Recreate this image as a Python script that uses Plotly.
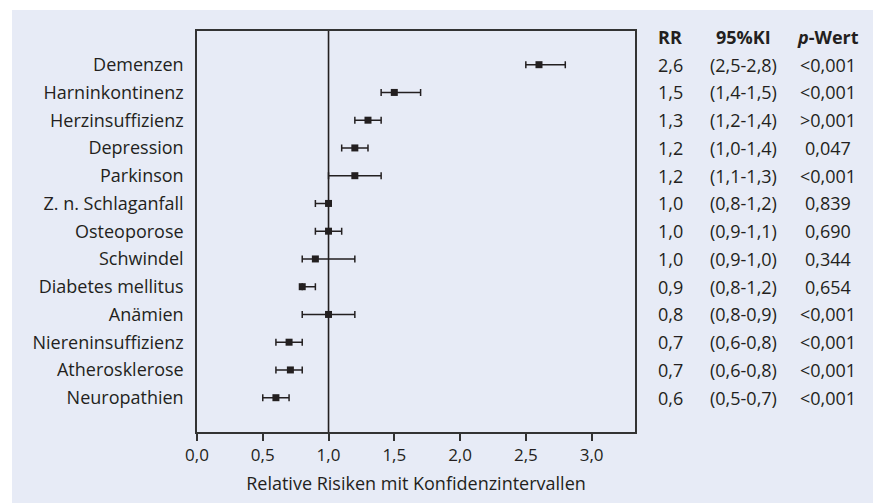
import plotly.graph_objects as go

categories = ["Demenzen", "Harninkontinenz", "Herzinsuffizienz", "Depression", "Parkinson",
              "Z. n. Schlaganfall", "Osteoporose", "Schwindel", "Diabetes mellitus", "Anämien",
              "Niereninsuffizienz", "Atherosklerose", "Neuropathien"]
rr_point = [2.6, 1.5, 1.3, 1.2, 1.2, 1.0, 1.0, 0.9, 0.8, 1.0, 0.7, 0.71, 0.6]
ci_low = [2.5, 1.4, 1.2, 1.1, 1.0, 0.9, 0.9, 0.8, 0.8, 0.8, 0.6, 0.6, 0.5]
ci_high = [2.8, 1.7, 1.4, 1.3, 1.4, 1.0, 1.1, 1.2, 0.9, 1.2, 0.8, 0.8, 0.7]

rr_text = ["2,6", "1,5", "1,3", "1,2", "1,2", "1,0", "1,0", "1,0", "0,9", "0,8", "0,7", "0,7", "0,6"]
ki_text = ["(2,5-2,8)", "(1,4-1,5)", "(1,2-1,4)", "(1,0-1,4)", "(1,1-1,3)", "(0,8-1,2)", "(0,9-1,1)",
           "(0,9-1,0)", "(0,8-1,2)", "(0,8-0,9)", "(0,6-0,8)", "(0,6-0,8)", "(0,5-0,7)"]
p_text = ["<0,001", "<0,001", ">0,001", "0,047", "<0,001", "0,839", "0,690", "0,344", "0,654",
          "<0,001", "<0,001", "<0,001", "<0,001"]
headers = ["<b>RR</b>", "<b>95%KI</b>", "<b><i>p</i>-Wert</b>"]
x_ticks = [0, 0.5, 1.0, 1.5, 2.0, 2.5, 3.0]

n = len(categories)
ypos = [n - 1 - i for i in range(n)]

DARK = "#231f20"
BG = "#e7ebf6"
FONT = "Open Sans"
FS = 18

fig = go.Figure()
fig.add_trace(go.Scatter(
    x=rr_point, y=ypos, mode="markers",
    marker=dict(symbol="square", size=7, color=DARK),
    error_x=dict(type="data", symmetric=False,
                 array=[h - p for h, p in zip(ci_high, rr_point)],
                 arrayminus=[p - l for p, l in zip(rr_point, ci_low)],
                 color=DARK, thickness=1.5, width=3.5),
    showlegend=False, hoverinfo="skip",
))

shapes = [
    dict(type="rect", xref="paper", yref="paper", x0=-0.4224, x1=1.6, y0=-0.2, y1=1.0524,
         fillcolor=BG, line=dict(width=0), layer="below"),
    dict(type="line", xref="x", yref="paper", x0=1.0, x1=1.0, y0=0, y1=1,
         line=dict(color=DARK, width=1.6), layer="below"),
]

annotations = []
col_x = [670, 743, 828]
col_paper = [(c - 197) / 438 for c in col_x]
for cx, h in zip(col_paper, headers):
    annotations.append(dict(x=cx, y=n, xref="paper", yref="y", text=h, showarrow=False,
                            xanchor="center", yanchor="middle",
                            font=dict(family=FONT, size=FS, color=DARK)))
for i in range(n):
    for cx, arr in zip(col_paper, [rr_text, ki_text, p_text]):
        annotations.append(dict(x=cx, y=ypos[i], xref="paper", yref="y", text=arr[i],
                                showarrow=False, xanchor="center", yanchor="middle",
                                font=dict(family=FONT, size=FS, color=DARK)))

fig.update_layout(
    width=873, height=503,
    margin=dict(l=197, r=238, t=31, b=71),
    paper_bgcolor="white", plot_bgcolor="rgba(0,0,0,0)",
    separators=",.",
    font=dict(family=FONT, size=FS, color=DARK),
    shapes=shapes, annotations=annotations,
    xaxis=dict(range=[0, 3.33], tickvals=x_ticks, tickformat=".1f",
               showgrid=False, zeroline=False, showline=True, mirror=True,
               linecolor="#333333", linewidth=1.5, ticks="outside", ticklen=7,
               tickwidth=1.5, tickcolor="#333333",
               title=dict(text="Relative Risiken mit Konfidenzintervallen", standoff=12,
                          font=dict(family=FONT, size=FS, color=DARK)),
               tickfont=dict(family=FONT, size=17, color=DARK)),
    yaxis=dict(range=[-1.236, 13.214], tickvals=ypos, ticktext=categories,
               showgrid=False, zeroline=False, showline=True, mirror=True,
               linecolor="#333333", linewidth=1.5, ticks="", ticklabelstandoff=8,
               tickfont=dict(family=FONT, size=FS, color=DARK)),
)

fig.write_html("out.html", config={"displayModeBar": False},
               post_script="document.body.style.margin='0';")
